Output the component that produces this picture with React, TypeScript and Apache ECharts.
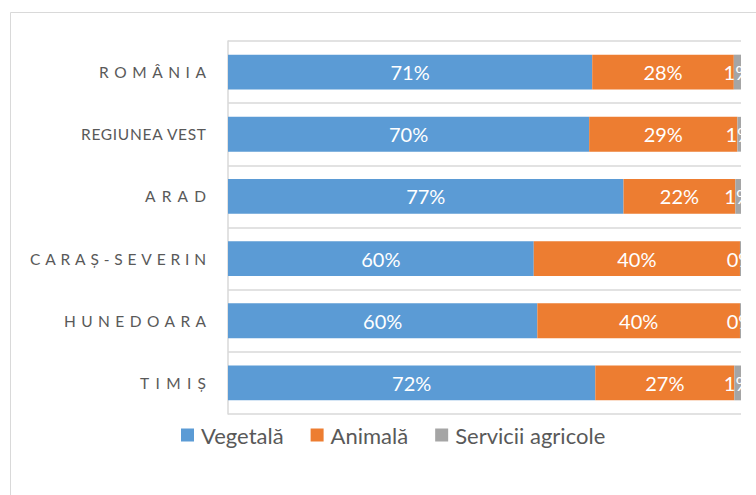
import React, { useEffect, useRef } from "react";
import * as echarts from "echarts";

const categories = ["ROMÂNIA", "REGIUNEA VEST", "ARAD", "CARAȘ-SEVERIN", "HUNEDOARA", "TIMIȘ"];
const vegetala = [71.0, 70.4, 77.1, 59.6, 60.3, 71.6];
const animala = [27.6, 28.9, 21.8, 40.2, 39.5, 27.1];
const servicii = [1.4, 0.7, 1.1, 0.2, 0.2, 1.3];
const seriesNames = ["Vegetală", "Animală", "Servicii agricole"];
const colors = ["#5B9BD5", "#ED7D31", "#A5A5A5"];

// spaced-out (letter-spaced) widths of the category labels, in px (styling only)
const labelSpreadWidths = [107, 125, 61, 176, 142, 66];

const FONT = "Lato, 'Open Sans', sans-serif";

export default function App() {
  const ref = useRef<HTMLDivElement>(null);
  useEffect(() => {
    if (!ref.current) return;
    const chart = echarts.init(ref.current, undefined, { renderer: "svg" });
    const values = [vegetala, animala, servicii];
    const series = values.map((data, i) => ({
      name: seriesNames[i],
      type: "bar",
      stack: "total",
      barWidth: "56%",
      silent: true,
      data,
      itemStyle: { color: colors[i] },
      label: {
        show: true,
        position: "inside",
        color: "#ffffff",
        fontFamily: FONT,
        fontSize: 20,
        formatter: (p: any) => Math.round(p.value) + "%",
      },
    }));
    chart.setOption({
      animation: false,
      textStyle: { fontFamily: FONT },
      grid: { left: 228, top: 41, width: 513, height: 373, containLabel: false },
      xAxis: {
        type: "value",
        min: 0,
        max: 100,
        show: false,
      },
      yAxis: {
        type: "category",
        inverse: true,
        data: categories,
        axisLine: { show: true, lineStyle: { color: "#d9d9d9", width: 1.5 } },
        axisTick: { show: false },
        splitLine: { show: true, lineStyle: { color: "#d9d9d9", width: 1.5 } },
        axisLabel: {
          color: "#595959",
          fontFamily: FONT,
          fontSize: 15.5,
          margin: 22,
        },
      },
      legend: {
        top: 424,
        left: 181,
        padding: 0,
        icon: "rect",
        itemWidth: 13,
        itemHeight: 13,
        itemGap: 27,
        textStyle: { color: "#595959", fontFamily: FONT, fontSize: 22, padding: [0, 0, 0, 2] },
        selectedMode: false,
        data: seriesNames,
      },
      graphic: [
        {
          type: "rect",
          z: 100,
          silent: true,
          shape: { x: 741, y: 14, width: 30, height: 500 },
          style: { fill: "#ffffff" },
        },
        {
          type: "rect",
          z: 101,
          silent: true,
          shape: { x: 10.5, y: 12.5, width: 1000, height: 1000 },
          style: { fill: "none", stroke: "#d9d9d9", lineWidth: 1 },
        },
      ],
      series,
    });
    const applySpacing = () => {
      if (!ref.current) return;
      ref.current.querySelectorAll("text").forEach((t) => {
        const s = (t.textContent || "").trim();
        const idx = categories.indexOf(s);
        if (idx >= 0) {
          t.setAttribute("textLength", String(labelSpreadWidths[idx]));
          t.setAttribute("lengthAdjust", "spacing");
        }
      });
    };
    applySpacing();
    chart.on("finished", applySpacing);
    const to = setTimeout(applySpacing, 0);
    const raf = requestAnimationFrame(applySpacing);
    return () => {
      clearTimeout(to);
      cancelAnimationFrame(raf);
      chart.dispose();
    };
  }, []);
  return (
    <div
      ref={ref}
      style={{ position: "fixed", left: 0, top: 0, width: 756, height: 495, background: "#ffffff" }}
    />
  );
}
